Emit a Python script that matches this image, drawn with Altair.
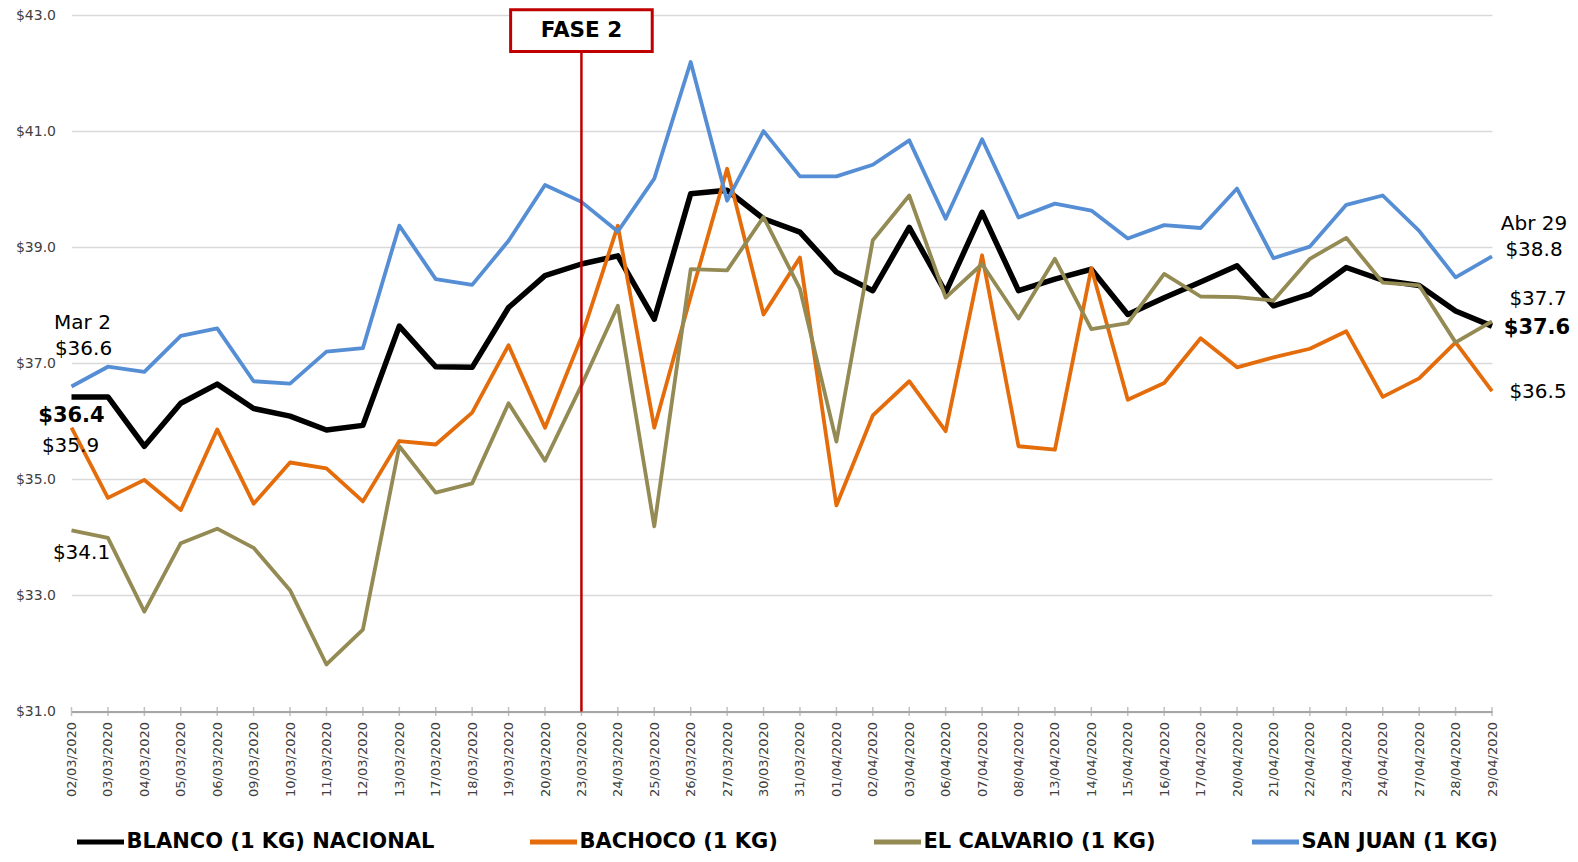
import altair as alt
import pandas as pd

fechas = ["02/03/2020", "03/03/2020", "04/03/2020", "05/03/2020", "06/03/2020",
          "09/03/2020", "10/03/2020", "11/03/2020", "12/03/2020", "13/03/2020",
          "17/03/2020", "18/03/2020", "19/03/2020", "20/03/2020", "23/03/2020",
          "24/03/2020", "25/03/2020", "26/03/2020", "27/03/2020", "30/03/2020",
          "31/03/2020", "01/04/2020", "02/04/2020", "03/04/2020", "06/04/2020",
          "07/04/2020", "08/04/2020", "13/04/2020", "14/04/2020", "15/04/2020",
          "16/04/2020", "17/04/2020", "20/04/2020", "21/04/2020", "22/04/2020",
          "23/04/2020", "24/04/2020", "27/04/2020", "28/04/2020", "29/04/2020"]

blanco = [36.42, 36.42, 35.57, 36.31, 36.64, 36.22, 36.09, 35.85, 35.93, 37.64,
          36.94, 36.93, 37.96, 38.51, 38.71, 38.85, 37.76, 39.92, 39.98, 39.49,
          39.26, 38.57, 38.25, 39.34, 38.22, 39.60, 38.25, 38.45, 38.62, 37.84,
          38.13, 38.40, 38.68, 37.99, 38.19, 38.65, 38.43, 38.34, 37.90, 37.64]

bachoco = [35.89, 34.68, 34.99, 34.47, 35.86, 34.58, 35.29, 35.19, 34.62, 35.66,
           35.60, 36.15, 37.31, 35.89, 37.45, 39.37, 35.89, 38.15, 40.35, 37.84,
           38.82, 34.55, 36.10, 36.69, 35.83, 38.86, 35.57, 35.51, 38.64, 36.37,
           36.66, 37.43, 36.93, 37.10, 37.25, 37.55, 36.42, 36.74, 37.36, 36.52]

calvario = [34.12, 33.99, 32.72, 33.90, 34.15, 33.82, 33.09, 31.81, 32.41, 35.57,
            34.77, 34.93, 36.31, 35.32, 36.62, 37.99, 34.19, 38.62, 38.60, 39.52,
            38.28, 35.65, 39.12, 39.89, 38.13, 38.71, 37.77, 38.80, 37.59, 37.69,
            38.54, 38.15, 38.14, 38.08, 38.80, 39.16, 38.39, 38.34, 37.36, 37.72]

san_juan = [36.60, 36.94, 36.85, 37.47, 37.60, 36.69, 36.65, 37.20, 37.26, 39.37,
            38.45, 38.35, 39.11, 40.07, 39.78, 39.27, 40.18, 42.19, 39.80, 41.00,
            40.22, 40.22, 40.42, 40.84, 39.49, 40.86, 39.51, 39.75, 39.63, 39.15,
            39.38, 39.33, 40.01, 38.81, 39.01, 39.73, 39.89, 39.28, 38.48, 38.84]

series = ["BLANCO (1 KG) NACIONAL", "BACHOCO (1 KG)", "EL CALVARIO (1 KG)", "SAN JUAN (1 KG)"]
colores = ["#000000", "#E46C0A", "#948A54", "#558ED5"]
grosores = [5.5, 3.8, 3.8, 3.8]
valores = [blanco, bachoco, calvario, san_juan]

fase2_fecha = "23/03/2020"
fase2_texto = "FASE 2"
y_min, y_max = 31, 43
FASE2_CENTRO = 42.73
FASE2_BASE = 42.37

rows = []
for s, vals in zip(series, valores):
    for f, v in zip(fechas, vals):
        rows.append({"fecha": f, "precio": v, "serie": s})
df = pd.DataFrame(rows)

FONT = "DejaVu Sans"
xscale = alt.Scale(type="point", domain=fechas, padding=0)
yscale = alt.Scale(domain=[y_min, y_max], nice=False, zero=False)

x_axis = alt.Axis(labelAngle=270, labelFont=FONT, labelFontSize=13,
                  labelColor="#404040", labelPadding=10, ticks=False,
                  domainColor="#a6a6a6", domainWidth=2, grid=False,
                  labelOverlap=False, title=None)
y_axis = alt.Axis(values=list(range(31, 44, 2)), format="$.1f",
                  labelFont=FONT, labelFontSize=14, labelColor="#404040",
                  labelPadding=16, ticks=False, domain=False, grid=True,
                  gridColor="#d9d9d9", gridWidth=1.5, title=None)


def X():
    return alt.X("fecha:O", scale=xscale, axis=x_axis, title=None)


def Y(field="precio:Q"):
    return alt.Y(field, scale=yscale, axis=y_axis, title=None)


def Yd(v):
    return alt.Y(datum=v, scale=yscale, axis=y_axis, title=None)


color = alt.Color(
    "serie:N",
    scale=alt.Scale(domain=series, range=colores),
    legend=alt.Legend(
        title=None, orient="none", legendX=3, legendY=801,
        direction="horizontal", columns=4, columnPadding=85,
        symbolType="stroke", symbolSize=2209, symbolStrokeWidth=5,
        labelFont=FONT, labelFontSize=21, labelFontWeight="bold",
        labelColor="#000000", labelOffset=0, labelLimit=0,
    ),
)

# cross tick marks on x axis
ticks_df = pd.DataFrame({"fecha": fechas})
ticks = alt.Chart(ticks_df).mark_tick(orient="vertical", size=9, thickness=1.5,
                                      color="#a6a6a6").encode(x=X(), y=Yd(y_min))

layers = [ticks]
for s, w in zip(series, grosores):
    layers.append(
        alt.Chart(df[df["serie"] == s]).mark_line(strokeWidth=w, strokeJoin="round")
        .encode(x=X(), y=Y(), color=color)
    )

f2 = pd.DataFrame({"fecha": [fase2_fecha], "texto": [fase2_texto]})
regla = alt.Chart(f2).mark_rule(color="#C00000", strokeWidth=2.5).encode(
    x=X(), y=Yd(FASE2_BASE), y2=alt.Y2(datum=y_min),
)
caja = alt.Chart(f2).mark_point(
    shape="M-1,-0.2938H1V0.2938H-1Z", size=20050, filled=True, fill="white",
    stroke="#C00000", strokeWidth=3, opacity=1,
).encode(x=X(), y=Yd(FASE2_CENTRO))
caja_txt = alt.Chart(f2).mark_text(font=FONT, fontSize=21.5, fontWeight="bold",
                                   color="#000000", baseline="middle").encode(
    x=X(), y=Yd(FASE2_CENTRO), text="texto:N",
)


def fmt(v):
    return "$" + f"{v:.1f}"


# (fecha, valor ancla, texto, negrita, dx, dy)
anotaciones = [
    (fechas[0], san_juan[0], "Mar 2", False, 11, -63),
    (fechas[0], san_juan[0], fmt(san_juan[0]), False, 12, -37),
    (fechas[0], blanco[0], fmt(blanco[0]), True, 0, 19),
    (fechas[0], bachoco[0], fmt(bachoco[0]), False, -1, 18),
    (fechas[0], calvario[0], fmt(calvario[0]), False, 10, 23),
    (fechas[-1], san_juan[-1], "Abr 29", False, 42, -32),
    (fechas[-1], san_juan[-1], fmt(san_juan[-1]), False, 42, -6),
    (fechas[-1], calvario[-1], fmt(calvario[-1]), False, 46, -22),
    (fechas[-1], blanco[-1], fmt(blanco[-1]), True, 45, 2),
    (fechas[-1], bachoco[-1], fmt(bachoco[-1]), False, 46, 1),
]
ann_layers = []
for f, v, t, b, dx, dy in anotaciones:
    d = pd.DataFrame({"fecha": [f], "precio": [v], "texto": [t]})
    ann_layers.append(
        alt.Chart(d).mark_text(font=FONT, fontSize=21 if b else 20,
                               fontWeight="bold" if b else "normal",
                               color="#000000", align="center", baseline="middle",
                               dx=dx, dy=dy)
        .encode(x=X(), y=Y(), text="texto:N")
    )

chart = alt.layer(*layers, regla, caja, caja_txt, *ann_layers).properties(
    width=1420.5, height=696.5,
    padding={"left": 63.5, "top": 7, "right": 78, "bottom": 141},
    autosize=alt.AutoSizeParams(type="none"),
).configure_view(stroke=None)

chart.save("out.html", embed_options={"renderer": "svg", "actions": False})
